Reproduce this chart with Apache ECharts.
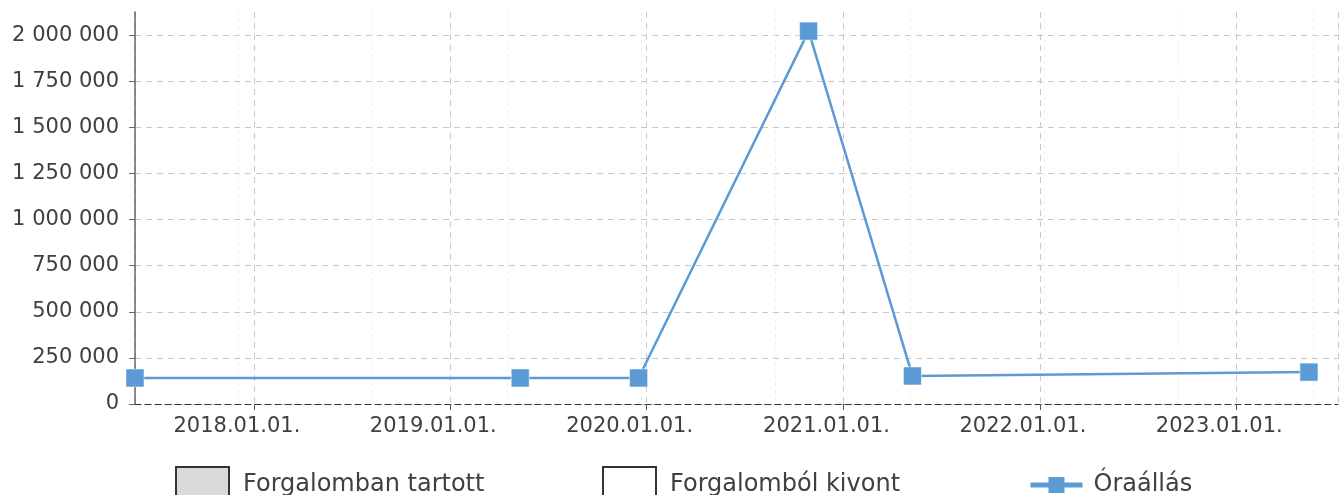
<!DOCTYPE html>
<html>
<head>
<meta charset="utf-8">
<script src="https://cdn.jsdelivr.net/npm/echarts@6/dist/echarts.min.js"></script>
<style>
	html, body { margin: 0; padding: 0; background: #fff; }
	#chart { width: 1339px; height: 495px; }
</style>
</head>
<body>
<div id="chart"></div>
<script>
const readingDates = ["2017-05-25", "2019-05-11", "2019-12-17", "2020-10-28", "2021-05-09", "2023-05-16"]
const readingValues = [141000, 141000, 141000, 2021500, 152000, 173000]
const xRange = ["2017-05-25", "2023-07-09"]
const yMax = 2125000
const yTickMax = 2000000
const yTickStep = 250000
const legendNames = ["Forgalomban tartott", "Forgalomból kivont", "Óraállás"]

const font = "DejaVu Sans"
const textColor = "#404040"

const fmtNum = (v) => String(v).replace(/\B(?=(\d{3})+(?!\d))/g, " ")
const pad = (n) => (n < 10 ? "0" + n : "" + n)
const fmtDate = (v) => {
	const d = new Date(v)
	return d.getFullYear() + "." + pad(d.getMonth() + 1) + "." + pad(d.getDate()) + "."
}
const toTime = (s) => {
	const p = s.split("-").map(Number)
	return new Date(p[0], p[1] - 1, p[2]).getTime()
}

const chart = echarts.init(document.getElementById("chart"))

const rectLegend = (name, left) => ({
	data: [name],
	left: left,
	top: 466,
	padding: 0,
	icon: "rect",
	itemWidth: 53,
	itemHeight: 36,
	selectedMode: false,
	textStyle: { fontFamily: font, fontSize: 24, color: textColor, padding: [0, 0, 0, 9] },
})

// main grid, minor-line grid, and a grid whose top sits on the 2 000 000 tick
const plotTop = 12
const plotBottom = 91
const tickGridTop = 404 - (404 - plotTop) * (yTickMax / yMax)

const options = {
	animation: false,
	textStyle: { fontFamily: font },
	grid: [
		{ left: 135, right: 1, top: plotTop, bottom: plotBottom },
		{ left: 238, right: 26, top: plotTop, bottom: plotBottom },
		{ left: 135, right: 1, top: tickGridTop, bottom: plotBottom },
	],
	legend: [
		rectLegend(legendNames[0], 175),
		rectLegend(legendNames[1], 602),
		{
			data: [legendNames[2]],
			left: 1028,
			top: 473,
			padding: 0,
			itemWidth: 52,
			itemHeight: 20,
			selectedMode: false,
			itemStyle: { borderWidth: 0 },
			lineStyle: { width: 5 },
			textStyle: { fontFamily: font, fontSize: 24, color: textColor, padding: [0, 0, 0, 6] },
		},
	],
	xAxis: [
		{
			type: "time",
			gridIndex: 0,
			min: toTime(xRange[0]),
			max: toTime(xRange[1]),
			splitNumber: 6,
			axisLine: { show: true, lineStyle: { color: "#333", type: [6, 4], width: 1 } },
			axisTick: { show: true, length: 6, lineStyle: { color: "#555" } },
			axisLabel: {
				formatter: fmtDate,
				fontFamily: font,
				fontSize: 21,
				color: textColor,
				margin: 12,
				padding: [0, 34, 0, 0],
				showMinLabel: false,
				showMaxLabel: false,
			},
			splitLine: { show: true, lineStyle: { color: "#c8c8c8", type: [6, 5] } },
		},
		{
			type: "value",
			gridIndex: 1,
			min: 0,
			max: 8,
			interval: 1,
			axisLine: { show: false },
			axisTick: { show: false },
			axisLabel: { show: false },
			splitLine: { show: true, lineStyle: { color: "#eeeeee", type: [3, 4] } },
		},
		{
			type: "value",
			gridIndex: 2,
			min: 0,
			max: 1,
			show: false,
		},
	],
	yAxis: [
		{
			type: "value",
			gridIndex: 0,
			min: 0,
			max: yMax,
			axisLine: { show: true, lineStyle: { color: "#666", width: 1.5 } },
			axisTick: { show: false },
			axisLabel: { show: false },
			splitLine: { show: false },
		},
		{
			type: "value",
			gridIndex: 1,
			min: 0,
			max: 1,
			show: false,
		},
		{
			type: "value",
			gridIndex: 2,
			min: 0,
			max: yTickMax,
			interval: yTickStep,
			axisLine: { show: false },
			axisTick: { show: true, length: 6, lineStyle: { color: "#666" } },
			axisLabel: {
				formatter: fmtNum,
				fontFamily: font,
				fontSize: 21,
				color: textColor,
				margin: 16,
			},
			splitLine: { show: true, lineStyle: { color: "#c8c8c8", type: [6, 5] } },
		},
	],
	series: [
		{
			name: legendNames[0],
			type: "bar",
			xAxisIndex: 1,
			yAxisIndex: 1,
			data: [],
			itemStyle: { color: "#d9d9d9", borderColor: "#333", borderWidth: 1.5 },
		},
		{
			name: legendNames[1],
			type: "bar",
			xAxisIndex: 1,
			yAxisIndex: 1,
			data: [],
			itemStyle: { color: "#ffffff", borderColor: "#333", borderWidth: 1.5 },
		},
		{
			name: legendNames[2],
			type: "line",
			xAxisIndex: 0,
			yAxisIndex: 0,
			data: readingDates.map((d, i) => [toTime(d), readingValues[i]]),
			symbol: "rect",
			symbolSize: 18,
			clip: true,
			lineStyle: { color: "#5b9bd5", width: 2.5 },
			itemStyle: { color: "#5b9bd5", borderColor: "#fff", borderWidth: 0.5 },
			z: 5,
		},
	],
}

chart.setOption(options)
</script>
</body>
</html>
